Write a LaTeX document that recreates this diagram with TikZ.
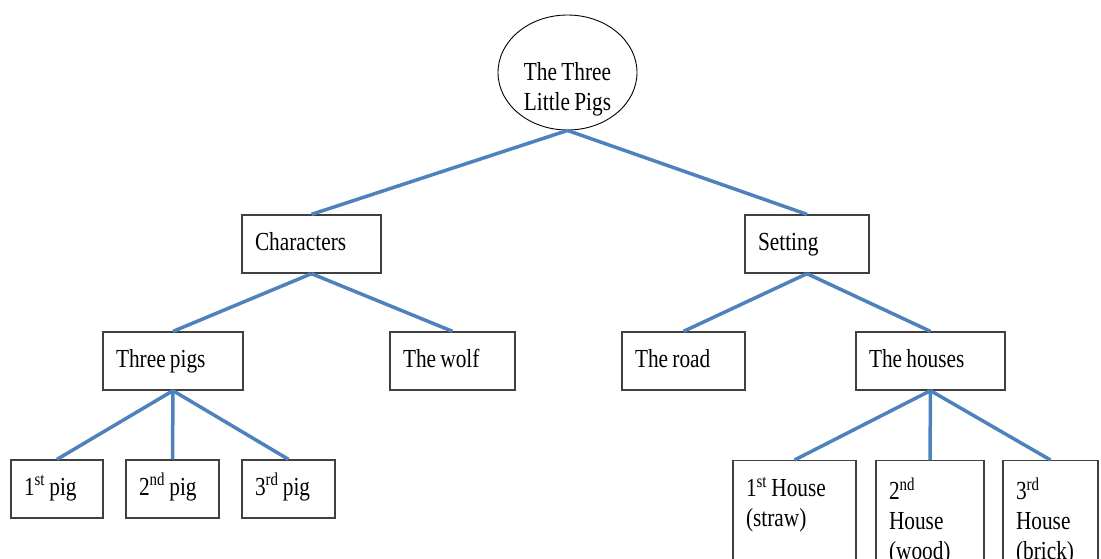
\documentclass[tikz,border=0pt]{standalone}
\usepackage{fontspec}
\setmainfont[FakeStretch=0.82, WordSpace={0.8,0,0}]{Liberation Serif}
\usepackage{tikz}
\usetikzlibrary{shapes, positioning}
\definecolor{linkblue}{RGB}{79,129,189}

\begin{document}
\begin{tikzpicture}[x=1pt, y=-1pt, semithick,
font=\fontsize{26}{30}\selectfont]
   \tikzstyle{box}=[rectangle,draw=black!75,line width=1.3pt,inner xsep=13pt,
   minimum height=58pt,align=flush left,text height=17pt,text depth=5pt]
   \tikzstyle{tallbox}=[rectangle,draw=black!75,line width=1.3pt,inner xsep=13pt,
   inner ysep=17pt,align=flush left,anchor=north]
   \tikzstyle{link}=[draw=linkblue,line width=3.5pt]
\useasboundingbox (0,0) rectangle (1101,558);

\node[ellipse, draw, line width=0.9pt, minimum width=139pt, minimum height=115pt,
  label={[align=center, yshift=-17pt]center:The Three\\Little Pigs}] (root) at (567.5,72.5) {};

\node[box, text width=113pt] (chars)   at (311.5,244) {Characters};
\node[box, text width=98pt]  (setting) at (807,244)   {Setting};

\node[box, text width=114pt] (pigs)   at (173,361)   {Three pigs};
\node[box, text width=99pt]  (wolf)   at (452.5,361) {The wolf};
\node[box, text width=97pt]  (road)   at (683.5,361) {The road};
\node[box, text width=123pt] (houses) at (930.5,361) {The houses};

\node[box, text width=66pt] (pig1) at (57,489)    {1\textsuperscript{st} pig};
\node[box, text width=67pt] (pig2) at (172.5,489) {2\textsuperscript{nd} pig};
\node[box, text width=67pt] (pig3) at (288.5,489) {3\textsuperscript{rd} pig};

\node[tallbox, text width=97pt] (house1) at (794.5,460)  {1\textsuperscript{st} House\\(straw)\\~};
\node[tallbox, text width=82pt] (house2) at (930,460)    {2\textsuperscript{nd}\\House\\(wood)};
\node[tallbox, text width=69pt] (house3) at (1050.5,460) {3\textsuperscript{rd}\\House\\(brick)};

 \path[link] (root.south) edge (chars.north)
        (root.south) edge (setting.north)
        (chars.south) edge (pigs.north)
        (chars.south) edge (wolf.north)
        (setting.south) edge (road.north)
        (setting.south) edge (houses.north)
        (pigs.south) edge (pig1.north)
        (pigs.south) edge (pig2.north)
        (pigs.south) edge (pig3.north)
        (houses.south) edge (house1.north)
        (houses.south) edge (house2.north)
        (houses.south) edge (house3.north);
\end{tikzpicture}
\end{document}
